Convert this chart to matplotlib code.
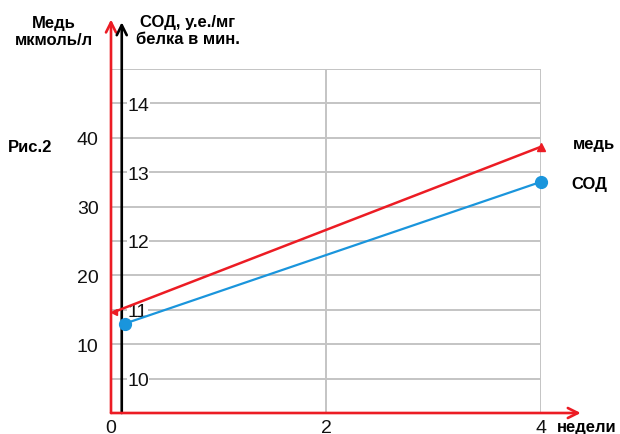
import matplotlib.pyplot as plt

plt.rcParams['font.family'] = ['Liberation Sans', 'DejaVu Sans']

# data
weeks = [0.03, 4]
copper = [14.7, 38.7]          # мкмоль/л
sod_weeks = [0.13, 4]
sod = [10.8, 12.86]            # у.е./мг белка в мин.
copper_ticks = [10, 20, 30, 40]
sod_ticks = [10, 11, 12, 13, 14]
week_ticks = [0, 2, 4]

RED = '#ec1c24'
BLUE = '#1a95dc'
GRID = '#c4c4c4'


def sod_to_cu(v):
    return (v - 9.5) * 10


def cu_to_sod(v):
    return v / 10 + 9.5


W, H = 620, 435
fig = plt.figure(figsize=(W / 100, H / 100), dpi=100)
ax = fig.add_axes([111 / W, (H - 414) / H, (541 - 111) / W, (414 - 70) / H])
ax.set_xlim(0, 4)
ax.set_ylim(0, 50)
for s in ax.spines.values():
    s.set_visible(False)

# grid
for y in range(5, 55, 5):
    ax.plot([0, 4], [y, y], color=GRID, lw=1.4, zorder=1)
for x in [2, 4]:
    ax.plot([x, x], [0, 50], color=GRID, lw=1.4, zorder=1)

# axes with arrows
ax.annotate('', xy=(0, 57.2), xytext=(0, 0), annotation_clip=False,
            arrowprops=dict(arrowstyle='->', color=RED, lw=1.9,
                            mutation_scale=18, shrinkA=0, shrinkB=0))
ax.annotate('', xy=(0.1, 56.8), xytext=(0.1, 0), annotation_clip=False,
            arrowprops=dict(arrowstyle='->', color='black', lw=1.9,
                            mutation_scale=18, shrinkA=0, shrinkB=0))
ax.annotate('', xy=(4.37, 0), xytext=(0, 0), annotation_clip=False,
            arrowprops=dict(arrowstyle='->', color=RED, lw=1.9,
                            mutation_scale=18, shrinkA=0, shrinkB=0))

# series
ax.plot(weeks, copper, color=RED, lw=1.8, zorder=4)
ax.plot(weeks[:1], copper[:1], marker='<', color=RED, ms=5, zorder=5, clip_on=False)
ax.plot(weeks[1:], copper[1:], marker='^', color=RED, ms=6, zorder=5, clip_on=False)
ax.plot(sod_weeks, [sod_to_cu(v) for v in sod], color=BLUE, lw=1.6,
        marker='o', ms=8.5, zorder=4, clip_on=False)

# ticks
ax.set_xticks(week_ticks)
ax.set_xticklabels([str(t) for t in week_ticks])
ax.set_yticks(copper_ticks)
ax.set_yticklabels([str(t) for t in copper_ticks])
ax.tick_params(length=0, labelsize=14, colors='#111111')
ax.tick_params(axis='y', pad=9)
ax.tick_params(axis='x', pad=4)

sec = ax.secondary_yaxis(0.025, functions=(cu_to_sod, sod_to_cu))
sec.set_yticks(sod_ticks)
sec.set_yticklabels([str(t) for t in sod_ticks])
sec.yaxis.set_ticks_position('right')
sec.tick_params(length=0, labelsize=14, pad=4, labelright=True,
                labelleft=False, colors='#111111')
for lbl in sec.get_yticklabels():
    lbl.set_bbox(dict(facecolor='white', edgecolor='none', pad=0.3))
    lbl.set_va('center_baseline')
for s in sec.spines.values():
    s.set_visible(False)
sec.set_zorder(3)

# labels
def ftext(x, y, s, ha='left', **kw):
    fig.text(x / W, 1 - y / H, s, ha=ha, va='center', fontsize=12,
             fontweight='bold', **kw)


ftext(54, 32, 'Медь\nмкмоль/л', ha='center', linespacing=1.15)
ftext(188, 31, 'СОД, у.е./мг\nбелка в мин.', ha='center', linespacing=1.15)
ftext(8, 147, 'Рис.2')
ftext(573, 145, 'медь')
ftext(571, 185, 'СОД', )
ftext(557, 428, 'недели')

fig.savefig('out.png', dpi=100)
